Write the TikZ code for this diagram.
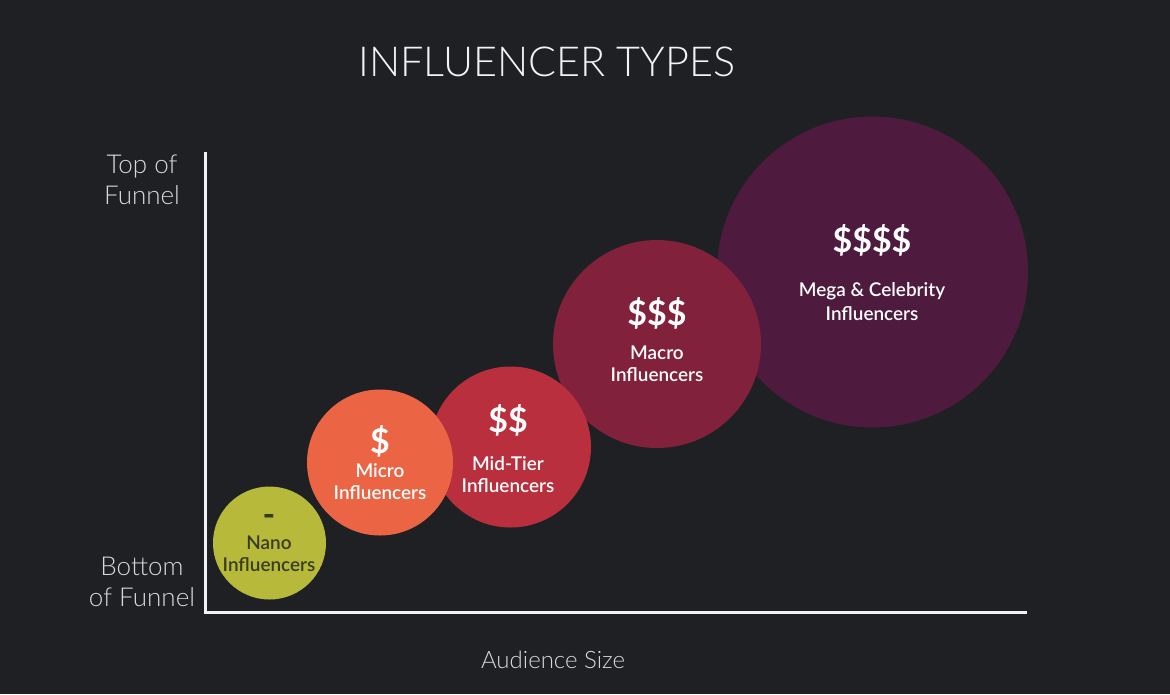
\documentclass[tikz,border=0pt]{standalone}
\usepackage{fontspec}
\setmainfont{Lato}
\newfontfamily\lightfont{Lato Light}
\newfontfamily\semifont{Lato Semibold}
\usepackage{xcolor}
\usetikzlibrary{positioning}

\definecolor{bgdark}{HTML}{1F2024}
\definecolor{nanocol}{HTML}{B6B93A}
\definecolor{microcol}{HTML}{EB6443}
\definecolor{midcol}{HTML}{B92F3D}
\definecolor{macrocol}{HTML}{81213B}
\definecolor{megacol}{HTML}{4E1A3E}
\definecolor{nanotext}{HTML}{3A3B1E}
\definecolor{axisgray}{HTML}{D9D9D9}

\begin{document}
\begin{tikzpicture}[
    x=0.75pt, y=-0.75pt,
    bubble/.style={circle, inner sep=0pt, draw=none},
    money/.style={font=\fontsize{25.5}{28}\selectfont\bfseries, text=white, inner sep=0pt},
    tag/.style={font=\semifont\fontsize{14.2}{16.5}\selectfont, align=center, text=white, inner sep=0pt},
    axislabel/.style={font=\lightfont\fontsize{19.5}{23.25}\selectfont, align=center, text=axisgray, inner sep=0pt},
    axis/.style={draw=white!95!black, line width=2.25pt}
  ]
    \fill[bgdark] (0,0) rectangle (1170,694);

    \node[font=\lightfont\fontsize{31}{36}\selectfont, text=white!95!black] (title) at (547,62) {INFLUENCER TYPES};

    % bubbles, right to left so the smaller ones sit on top
    \node[bubble, fill=megacol, minimum size=233.25pt] (mega) at (872.5,272) {};
    \node[bubble, fill=macrocol, minimum size=156pt] (macro) at (657,344) {};
    \node[bubble, fill=midcol, minimum size=120.75pt] (mid) at (510.5,447) {};
    \node[bubble, fill=microcol, minimum size=109.5pt] (micro) at (380,462.5) {};
    \node[bubble, fill=nanocol, minimum size=84.75pt] (nano) at (269.5,543) {};

    \node[money] (m4) at (872,240) {\$\$\$\$};
    \node[tag, font=\semifont\fontsize{14.2}{18}\selectfont] (megatag) at (872,302) {Mega \& Celebrity\\Influencers};
    \node[money] (m3) at (657,313) {\$\$\$};
    \node[tag] (macrotag) at (657,364) {Macro\\Influencers};
    \node[money] (m2) at (508,420) {\$\$};
    \node[tag] (midtag) at (508,475) {Mid-Tier\\Influencers};
    \node[money] (m1) at (380,441) {\$};
    \node[tag] (microtag) at (380,482) {Micro\\Influencers};
    \node[money, text=nanotext] (m0) at (269,520) {-};
    \node[tag, text=nanotext] (nanotag) at (269,554) {Nano\\Influencers};

    % axes
    \coordinate (ytop) at (205,152);
    \coordinate (origin) at (205,612);
    \coordinate (xend) at (1027,612);
    \draw[axis] (ytop) -- (origin) -- (xend);

    \node[axislabel] (toplabel) at (142,180) {Top of\\Funnel};
    \node[axislabel] (bottomlabel) at (142,582) {Bottom\\of Funnel};
    \node[axislabel, font=\lightfont\fontsize{18}{21}\selectfont] (xlabel) at (553,660) {Audience Size};
\end{tikzpicture}
\end{document}
